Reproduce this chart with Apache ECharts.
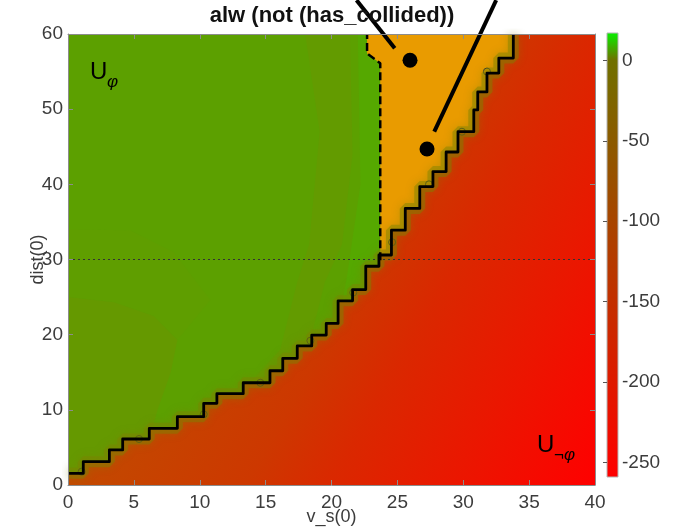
<!DOCTYPE html>
<html><head><meta charset="utf-8">
<script src="https://cdn.jsdelivr.net/npm/echarts@6/dist/echarts.min.js"></script>
<style>html,body{margin:0;padding:0;background:#fff;}#c{width:684px;height:529px;}</style>
</head><body><div id="c"></div>
<script>
// ---- data ----
const xRange = [0, 40];
const yRange = [0, 60];
const xTickStep = 5;
const yTickStep = 10;
const cbRange = [-259, 17];
const cbTicks = [-250, -200, -150, -100, -50, 0];
const cmapValues = [17, 0, -259];
const cmapColors = ['#08f000', '#707000', '#ff0000'];

// staircase boundary (corner points)
const stairPts = [[0,1.55],[1.16,1.55],[1.16,3.1],[3.14,3.1],[3.14,4.66],[4.15,4.66],[4.15,6.12],[6.17,6.12],[6.17,7.54],[8.3,7.54],[8.3,9.09],[10.3,9.09],[10.3,10.86],[11.3,10.86],[11.3,12.15],[13.3,12.15],[13.3,13.6],[15.33,13.6],[15.33,15.2],[16.3,15.2],[16.3,16.85],[17.4,16.85],[17.4,18.5],[18.5,18.5],[18.5,19.95],[19.6,19.95],[19.6,21.5],[20.5,21.5],[20.5,24.5],[21.6,24.5],[21.6,26.0],[22.6,26.0],[22.6,29.1],[23.6,29.1],[23.6,30.6],[24.55,30.6],[24.55,33.9],[25.6,33.9],[25.6,36.8],[26.7,36.8],[26.7,39.7],[27.7,39.7],[27.7,41.7],[28.7,41.7],[28.7,44.3],[29.6,44.3],[29.6,47.0],[30.8,47.0],[30.8,49.9],[31.1,49.9],[31.1,52.3],[31.8,52.3],[31.8,54.8],[32.7,54.8],[32.7,56.8],[33.8,56.8],[33.8,60]];
// small circles on the boundary
const circlePts = [[1.04,1.77],[5.39,6.12],[10.3,9.4],[14.6,13.6],[18.4,19.2],[21.65,25.6],[24.6,32.3],[27.4,40.0],[29.9,47.0],[31.8,55.0]];
// dashed boundary of the orange zone
const dashedPts = [[23.7,29.9],[23.7,56.1],[22.7,57.4],[22.7,60]];
// horizontal dotted reference line
const refLineY = 30;
// big black dots and their pointer lines
const dotPts = [[25.96,56.5],[27.25,44.7]];
const pointerLines = [[21.9,64.5,24.8,58.1],[32.5,64.5,27.8,47.0]];
// subtle shading zones inside the green area
const oliveBand = [[18.0,60],[21.4,60],[21.6,44],[20.8,32],[19.5,27],[18.5,20],[17.5,14],[14.5,10],[13.5,13],[16.1,18],[17.4,27],[18.3,32],[19.1,47]];
const brightStrip = [[22.0,60],[22.7,60],[22.7,57.4],[23.7,56.1],[23.7,29.9],[22.6,26],[20.5,21.5],[21.2,28],[22.2,40]];
const leftBulge = [[0,25],[3.5,24.3],[6.5,22.5],[8.3,19.3],[7.8,15],[6.8,10],[6,5],[5,0],[0,0]];
const leftUpper = [[0,34],[4.7,33.9],[8,31],[10.8,24.6],[8.3,19.3],[6.5,22.5],[3.5,24.3],[0,25]];

// ---- styling ----
const FONT = '"Liberation Sans", Arial, Helvetica, sans-serif';
const axisColor = '#8c8c8c';
const labelColor = '#3c3c3c';
const greenBase = '#5ca000';

const chart = echarts.init(document.getElementById('c'), null, {renderer: 'canvas'});

const xMin = xRange[0], xMax = xRange[1], yMin = yRange[0], yMax = yRange[1];
const orangePoly = dashedPts.concat([[xMax, yMax], [xMax, dashedPts[0][1]]]);
const redPoly = stairPts.concat([[xMax, yMax], [xMax, yMin], [xMin, yMin]]);

const polys = [
  {pts: leftUpper, kind: 'mid'},
  {pts: leftBulge, kind: 'olive2'},
  {pts: oliveBand, kind: 'olive'},
  {pts: brightStrip, kind: 'bright'},
  {pts: orangePoly, kind: 'orange'},
  {pts: redPoly, kind: 'red'}
];
const kindFill = {mid: '#5f9e00', olive2: '#659900', olive: '#639b00', bright: '#55a800', orange: '#e99b00'};

function mainAxisX(pos, showLabel) {
  return {
    gridIndex: 0, type: 'value', min: xMin, max: xMax, interval: xTickStep, position: pos, z: 10,
    axisLine: {show: true, onZero: false, lineStyle: {color: axisColor, width: 1}},
    axisTick: {show: true, inside: true, length: 5, lineStyle: {color: axisColor}},
    axisLabel: {show: showLabel, fontSize: 19, color: labelColor, fontFamily: FONT, margin: 8},
    splitLine: {show: false}
  };
}
function mainAxisY(pos, showLabel) {
  return {
    gridIndex: 0, type: 'value', min: yMin, max: yMax, interval: yTickStep, position: pos, z: 10,
    axisLine: {show: true, onZero: false, lineStyle: {color: axisColor, width: 1}},
    axisTick: {show: true, inside: true, length: 5, lineStyle: {color: axisColor}},
    axisLabel: {show: showLabel, fontSize: 19, color: labelColor, fontFamily: FONT, margin: 5},
    splitLine: {show: false}
  };
}

const xb = mainAxisX('bottom', true);
xb.name = 'v_s(0)'; xb.nameLocation = 'middle'; xb.nameGap = 23; xb.nameMoveOverlap = false;
xb.nameTextStyle = {fontSize: 18, color: labelColor, fontFamily: FONT};
const yl = mainAxisY('left', true);
yl.name = 'dist(0)'; yl.nameLocation = 'middle'; yl.nameGap = 21; yl.nameMoveOverlap = false;
yl.nameTextStyle = {fontSize: 18, color: labelColor, fontFamily: FONT};

const option = {
  animation: false,
  backgroundColor: '#ffffff',
  grid: [
    {left: 68, top: 34, width: 527, height: 451, show: true, backgroundColor: greenBase, borderWidth: 0, containLabel: false, outerBoundsMode: 'none'},
    {left: 607, top: 33, width: 11, height: 444, containLabel: false, outerBoundsMode: 'none'}
  ],
  xAxis: [xb, mainAxisX('top', false), {gridIndex: 1, type: 'value', min: 0, max: 1, show: false}],
  yAxis: [yl, mainAxisY('right', false), {
    gridIndex: 1, type: 'value', min: cbRange[0], max: cbRange[1], position: 'right', z: 10,
    axisLine: {show: false},
    axisTick: {show: true, inside: true, length: 4, customValues: cbTicks, lineStyle: {color: '#555'}},
    axisLabel: {show: true, customValues: cbTicks, fontSize: 19, color: labelColor, fontFamily: FONT, margin: 4},
    splitLine: {show: false}
  }],
  graphic: [
    {type: 'text', z: 100, x: 332, y: 5, style: {text: 'alw (not (has_collided))', fill: '#111', font: 'bold 22px ' + FONT, textAlign: 'center', textVerticalAlign: 'top'}},
    {type: 'text', z: 100, x: 90, y: 60, style: {text: 'U', fill: '#000', font: '24px ' + FONT}},
    {type: 'text', z: 100, x: 107, y: 74, style: {text: 'φ', fill: '#000', font: 'italic 17px ' + FONT}},
    {type: 'text', z: 100, x: 537, y: 433, style: {text: 'U', fill: '#000', font: '24px ' + FONT}},
    {type: 'text', z: 100, x: 554, y: 447, style: {text: '¬φ', fill: '#000', font: 'italic 17px ' + FONT}}
  ],
  series: [
    {
      type: 'custom', xAxisIndex: 0, yAxisIndex: 0, clip: true, silent: true,
      data: polys.map((p, i) => [i]),
      renderItem: function (params, api) {
        const p = polys[params.dataIndex];
        const pts = p.pts.map(q => api.coord(q));
        let fill;
        if (p.kind === 'red') {
          const a = api.coord([xMin, 40]), b = api.coord([xMax, yMin]);
          fill = new echarts.graphic.LinearGradient(a[0], a[1], b[0], b[1], [
            {offset: 0, color: 'rgb(182,88,0)'},
            {offset: 0.27, color: 'rgb(195,72,0)'},
            {offset: 0.5, color: 'rgb(205,56,0)'},
            {offset: 0.62, color: 'rgb(218,40,0)'},
            {offset: 0.8, color: 'rgb(235,22,0)'},
            {offset: 1, color: 'rgb(255,0,0)'}
          ], true);
        } else {
          fill = kindFill[p.kind];
        }
        return {type: 'polygon', shape: {points: pts}, style: {fill: fill}};
      }
    },
    {
      type: 'line', xAxisIndex: 0, yAxisIndex: 0, data: stairPts, symbol: 'none', silent: true,
      lineStyle: {width: 11, color: 'rgba(125,130,0,0.45)', shadowBlur: 8, shadowColor: 'rgba(125,130,0,0.7)'}
    },
    {
      type: 'line', xAxisIndex: 0, yAxisIndex: 0, data: [[xMin, refLineY], [xMax, refLineY]], symbol: 'none', silent: true,
      lineStyle: {width: 1, color: '#333', type: [2, 3]}
    },
    {
      type: 'line', xAxisIndex: 0, yAxisIndex: 0, data: dashedPts, symbol: 'none', silent: true,
      lineStyle: {width: 2.5, color: '#000', type: [8, 4]}
    },
    {
      type: 'line', xAxisIndex: 0, yAxisIndex: 0, data: stairPts, symbol: 'none', silent: true,
      lineStyle: {width: 2.8, color: '#000', join: 'round'}
    },
    {
      type: 'scatter', xAxisIndex: 0, yAxisIndex: 0, data: circlePts, symbol: 'circle', symbolSize: 7, silent: true,
      itemStyle: {color: 'rgba(0,0,0,0)', borderColor: '#333', borderWidth: 1, opacity: 1}
    },
    {
      type: 'scatter', xAxisIndex: 0, yAxisIndex: 0, data: dotPts, symbol: 'circle', symbolSize: 15, silent: true,
      itemStyle: {color: '#000', opacity: 1}
    },
    {
      type: 'custom', xAxisIndex: 0, yAxisIndex: 0, clip: false, silent: true,
      data: pointerLines,
      renderItem: function (params, api) {
        const a = api.coord([api.value(0), api.value(1)]);
        const b = api.coord([api.value(2), api.value(3)]);
        return {type: 'line', shape: {x1: a[0], y1: a[1], x2: b[0], y2: b[1]}, style: {stroke: '#000', lineWidth: 4}};
      }
    },
    {
      type: 'custom', xAxisIndex: 2, yAxisIndex: 2, clip: false, silent: true,
      data: [[0]],
      renderItem: function (params, api) {
        const top = api.coord([0, cbRange[1]]);
        const bot = api.coord([1, cbRange[0]]);
        const span = cbRange[1] - cbRange[0];
        const stops = cmapValues.map((v, i) => ({offset: (cbRange[1] - v) / span, color: cmapColors[i]}));
        return {
          type: 'rect',
          shape: {x: top[0], y: top[1], width: bot[0] - top[0], height: bot[1] - top[1]},
          style: {fill: new echarts.graphic.LinearGradient(0, top[1], 0, bot[1], stops, true), stroke: '#b5b5b5', lineWidth: 1}
        };
      }
    }
  ]
};
chart.setOption(option);
</script></body></html>
